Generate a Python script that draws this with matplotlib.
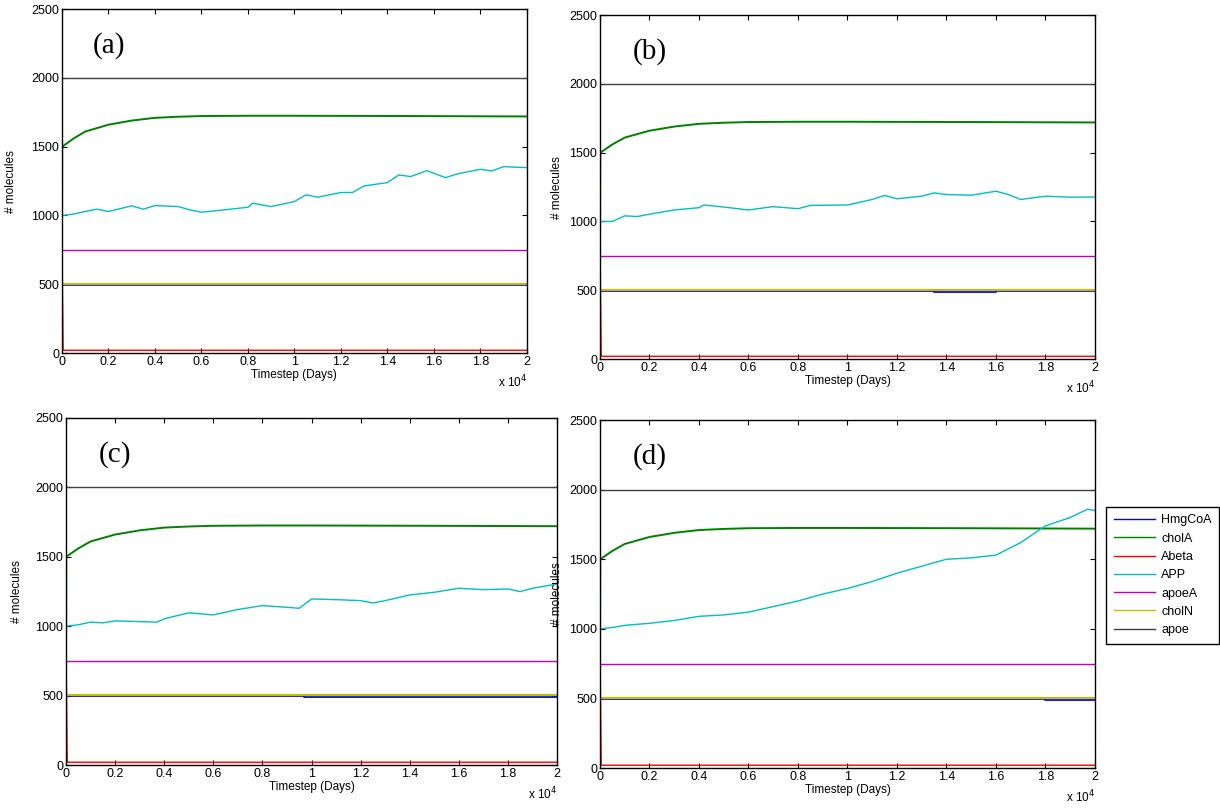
import matplotlib
matplotlib.use("Agg")
import matplotlib.pyplot as plt
import numpy as np

plt.rcParams['font.family'] = ['Liberation Sans', 'DejaVu Sans']

# APP (cyan), timesteps
t_app_a = [0, 10, 500, 1000, 1500, 2000, 3000, 3500, 4000, 5000, 5500, 6000, 7000, 8000, 8200, 9000,
           10000, 10500, 11000, 12000, 12500, 13000, 14000, 14500, 15000, 15700, 16000, 16500,
           17000, 18000, 18500, 19000, 20000]
app_a = [800, 1000, 1010, 1029, 1046, 1029, 1070, 1046, 1072, 1065, 1041, 1024, 1041, 1060, 1089, 1065,
         1101, 1150, 1133, 1167, 1167, 1215, 1239, 1295, 1283, 1326, 1307, 1275,
         1302, 1336, 1324, 1355, 1348]

t_app_b = [0, 10, 500, 1000, 1500, 2000, 3000, 4000, 4200, 5000, 6000, 7000, 8000, 8500, 10000,
           11000, 11500, 12000, 13000, 13500, 14000, 15000, 16000, 16500, 17000, 18000, 19000, 20000]
app_b = [800, 1000, 1000, 1041, 1036, 1053, 1084, 1100, 1120, 1105, 1084, 1108, 1093, 1117, 1120,
         1160, 1189, 1165, 1184, 1208, 1196, 1191, 1220, 1196, 1160, 1184, 1177, 1178]

t_app_c = [0, 10, 500, 1000, 1500, 2000, 3000, 3700, 4000, 5000, 5500, 6000, 7000, 8000, 9000, 9500,
           10000, 11000, 12000, 12500, 13000, 14000, 15000, 16000, 17000, 18000, 18500, 19000, 20000]
app_c = [800, 1000, 1010, 1029, 1024, 1038, 1033, 1029, 1053, 1096, 1089, 1081, 1120, 1148, 1136, 1129,
         1196, 1191, 1184, 1167, 1184, 1225, 1244, 1273, 1263, 1268, 1249, 1273, 1304]

t_app_d = [0, 10, 500, 1000, 2000, 3000, 4000, 5000, 6000, 7000, 8000, 9000, 10000, 11000, 12000,
           13000, 14000, 15000, 16000, 17000, 17500, 18000, 19000, 19700, 20000]
app_d = [800, 1000, 1010, 1025, 1040, 1060, 1090, 1100, 1120, 1160, 1200, 1250, 1290, 1340, 1400,
         1450, 1500, 1510, 1530, 1620, 1680, 1740, 1800, 1860, 1850]

# cholA (green) rise, same shape in every panel
t_chola = [0, 10, 500, 1000, 2000, 3000, 4000, 5000, 6000, 8000, 10000, 15000, 20000]
chola = [800, 1500, 1560, 1610, 1660, 1690, 1710, 1718, 1723, 1725, 1725, 1723, 1720]

# flat species
t_flat = [0, 50, 20000]
abeta = [800, 20, 20]
apoea = [750, 750, 750]
choln = [505, 505, 505]
apoe = [2000, 2000, 2000]

# HmgCoA (blue) with the small late dips in (b), (c), (d)
t_hmg_a = [0, 20000]
hmg_a = [495, 495]
t_hmg_b = [0, 13500, 13500, 16000, 16000, 20000]
hmg_b = [495, 495, 487, 487, 495, 495]
t_hmg_c = [0, 9700, 9700, 20000]
hmg_c = [495, 495, 487, 487]
t_hmg_d = [0, 18000, 18000, 20000]
hmg_d = [495, 495, 487, 487]

panels = [
    ("(a)", t_app_a, app_a, t_hmg_a, hmg_a, [0.0508, 0.5647, 0.381, 0.424], -0.097),
    ("(b)", t_app_b, app_b, t_hmg_b, hmg_b, [0.4918, 0.5573, 0.4057, 0.424], -0.075),
    ("(c)", t_app_c, app_c, t_hmg_c, hmg_c, [0.0541, 0.0567, 0.4025, 0.428], -0.088),
    ("(d)", t_app_d, app_d, t_hmg_d, hmg_d, [0.4918, 0.053, 0.4057, 0.429], -0.075),
]

names = ["HmgCoA", "cholA", "Abeta", "APP", "apoeA", "cholN", "apoe"]
colors = ["#0000ff", "#008000", "#ff0000", "#00bfbf", "#bf00bf", "#bfbf00", "#404040"]

fig = plt.figure(figsize=(12.2, 8.11), dpi=100)

for label, t_a, app, t_h, hmg, pos, ylab_x in panels:
    ax = fig.add_axes(pos)
    ax.plot(t_h, hmg, color=colors[0], lw=1.3)
    ax.plot(t_chola, chola, color=colors[1], lw=1.4)
    ax.plot(t_flat, abeta, color=colors[2], lw=1.0)
    ax.plot(t_a, app, color=colors[3], lw=1.0)
    ax.plot(t_flat, apoea, color=colors[4], lw=1.0)
    ax.plot(t_flat, choln, color=colors[5], lw=1.6)
    ax.plot(t_flat, apoe, color=colors[6], lw=1.0)

    ax.set_xlim(0, 20000)
    ax.set_ylim(0, 2500)
    ax.set_xticks(np.arange(0, 20001, 2000))
    ax.set_xticklabels(["0", "0.2", "0.4", "0.6", "0.8", "1", "1.2", "1.4", "1.6", "1.8", "2"])
    ax.set_yticks(np.arange(0, 2501, 500))
    ax.tick_params(direction="in", length=3.5, top=True, right=True, labelsize=9, pad=2)
    for s in ax.spines.values():
        s.set_linewidth(1.0)
    ax.set_xlabel("Timestep (Days)", fontsize=8.5, labelpad=1)
    ax.set_ylabel("# molecules", fontsize=8.5)
    ax.yaxis.set_label_coords(ylab_x, 0.5)
    ax.text(1.0, -0.06, "x 10$^{4}$", transform=ax.transAxes, ha="right", va="top", fontsize=8.5)
    ax.text(0.067, 0.895, label, transform=ax.transAxes, ha="left", va="center",
            fontsize=21, family=["Liberation Serif", "DejaVu Serif"])

handles = [plt.Line2D([], [], color=c, lw=1.0) for c in colors]
fig.legend(handles, names, loc="upper left", bbox_to_anchor=(1106 / 1220, 1 - 507 / 811),
           borderaxespad=0, fontsize=9, frameon=True, fancybox=False, edgecolor="black",
           framealpha=1, handlelength=3.3, borderpad=0.6, labelspacing=0.5, handletextpad=0.5)

fig.savefig("out.png", dpi=100)
